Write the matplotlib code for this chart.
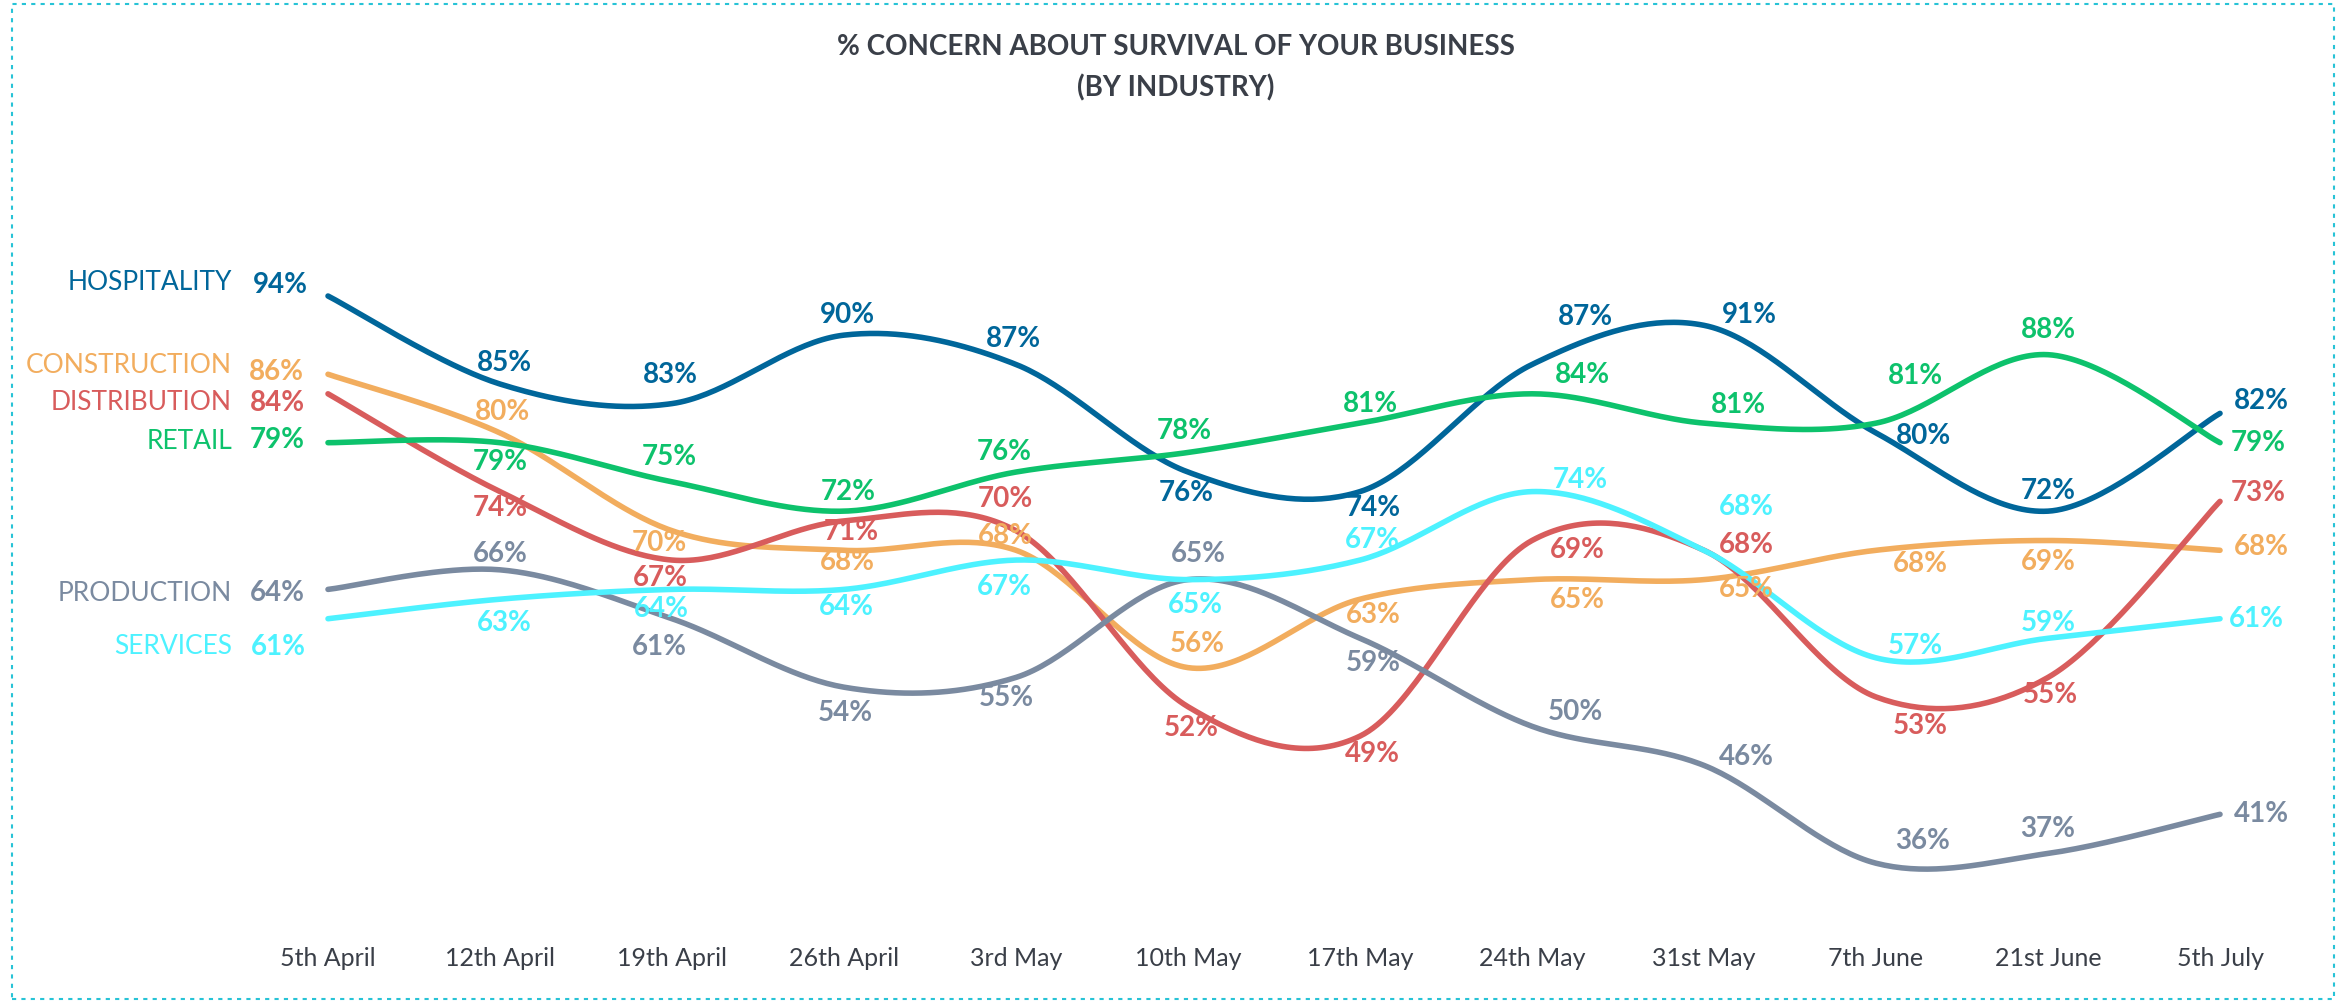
import numpy as np
import matplotlib
matplotlib.use("Agg")
import matplotlib.pyplot as plt
from matplotlib.patches import Rectangle

# ---- data -------------------------------------------------------------
dates = ["5th April", "12th April", "19th April", "26th April", "3rd May",
         "10th May", "17th May", "24th May", "31st May", "7th June",
         "21st June", "5th July"]

hospitality = [94, 85, 83, 90, 87, 76, 74, 87, 91, 80, 72, 82]
construction = [86, 80, 70, 68, 68, 56, 63, 65, 65, 68, 69, 68]
distribution = [84, 74, 67, 71, 70, 52, 49, 69, 68, 53, 55, 73]
retail = [79, 79, 75, 72, 76, 78, 81, 84, 81, 81, 88, 79]
production = [64, 66, 61, 54, 55, 65, 59, 50, 46, 36, 37, 41]
services = [61, 63, 64, 64, 67, 65, 67, 74, 68, 57, 59, 61]

industries = ["HOSPITALITY", "CONSTRUCTION", "DISTRIBUTION", "RETAIL",
              "PRODUCTION", "SERVICES"]
series = [hospitality, construction, distribution, retail, production, services]

# ---- styling ------------------------------------------------------------
colors = ["#00669A", "#F2AD5E", "#D85C5C", "#0DC26C", "#7A8AA0", "#4DF2FF"]

# label offsets in pixels (dx right, dy down) for each point
label_offsets = [
    [(-48, -11), (4, -21), (-2, -29), (3, -20), (-3, -25), (-2, 21),
     (13, 16), (53, -47), (45, -10), (47, 3), (0, -20), (41, -12)],
    [(-52, -2), (2, -21), (-13, 12), (3, 12), (-11, -14), (9, -24),
     (13, 16), (45, 20), (42, 9), (44, 14), (0, 22), (41, -3)],
    [(-51, 9), (0, 16), (-12, 18), (7, 11), (-11, -32), (3, 21),
     (12, 18), (45, 10), (42, -5), (44, 29), (2, 18), (38, -8)],
    [(-51, -3), (0, 19), (-3, -25), (4, -19), (-12, -20), (-4, -21),
     (10, -19), (50, -19), (34, -18), (39, -47), (0, -25), (38, 0)],
    [(-51, 4), (0, -16), (-13, 28), (1, 26), (-10, 21), (10, -26),
     (13, 25), (43, -14), (42, -8), (47, -22), (0, -24), (41, 0)],
    [(-50, 28), (4, 24), (-11, 20), (2, 18), (-12, 27), (7, 25),
     (12, -20), (48, -12), (42, -43), (39, -12), (0, -15), (36, 0)],
]
# vertical offset (pixels, down) of each series name from its first point
name_offsets = [-14, -9, 9, -1, 4, 28]

FONT = ["Lato", "DejaVu Sans"]
plt.rcParams["font.family"] = FONT

W, H = 2351, 1001
fig = plt.figure(figsize=(W / 100, H / 100), dpi=100)
fig.patch.set_facecolor("white")

# axes placed in pixel terms
left_px, right_px, top_px, bottom_px = 250, 2300, 150, 935
ax = fig.add_axes([left_px / W, 1 - bottom_px / H,
                   (right_px - left_px) / W, (bottom_px - top_px) / H])
ax.set_xlim(-0.4535, 11.465)
ax.set_ylim(28.66, 108.93)
for s in ax.spines.values():
    s.set_visible(False)
ax.set_yticks([])
ax.set_xticks(range(len(dates)))
ax.set_xticklabels(dates, fontsize=18, color="#3A3F48")
ax.tick_params(axis="x", length=0, pad=9)


def smooth(xs, ys, n=40):
    """Cubic Bezier smoothing through every point (Catmull-Rom style)."""
    pts = np.column_stack([xs, ys]).astype(float)
    ext = np.vstack([pts[0], pts, pts[-1]])
    out = []
    for i in range(len(pts) - 1):
        p0, p1, p2, p3 = ext[i], ext[i + 1], ext[i + 2], ext[i + 3]
        c1 = p1 + (p2 - p0) / 6.0
        c2 = p2 - (p3 - p1) / 6.0
        t = np.linspace(0, 1, n, endpoint=(i == len(pts) - 2))[:, None]
        seg = ((1 - t) ** 3) * p1 + 3 * ((1 - t) ** 2) * t * c1 \
            + 3 * (1 - t) * t ** 2 * c2 + t ** 3 * p2
        out.append(seg)
    out = np.vstack(out)
    return out[:, 0], out[:, 1]


x = np.arange(len(dates))
for name, vals, col, offs, noff in zip(industries, series, colors,
                                       label_offsets, name_offsets):
    sx, sy = smooth(x, vals)
    ax.plot(sx, sy, color=col, lw=4.0, solid_capstyle="round", zorder=2)
    for i, v in enumerate(vals):
        dx, dy = offs[i]
        ax.annotate(f"{v}%", (x[i], v), xytext=(dx, -dy),
                    textcoords="offset pixels", ha="center", va="center",
                    fontsize=20, fontweight="bold", color=col, zorder=3,
                    annotation_clip=False)
    # series name to the left of the first value
    ax.annotate(name, (x[0], vals[0]), xytext=(-96, -noff),
                textcoords="offset pixels", ha="right", va="center",
                fontsize=19, color=col, annotation_clip=False)

# title
fig.text(1176 / W, 1 - 47 / H, "% CONCERN ABOUT SURVIVAL OF YOUR BUSINESS",
         ha="center", va="center", fontsize=20, fontweight="bold",
         color="#3A3F48")
fig.text(1176 / W, 1 - 88 / H, "(BY INDUSTRY)",
         ha="center", va="center", fontsize=20, fontweight="bold",
         color="#3A3F48")

# dotted frame around the chart
fig.patches.append(Rectangle((12 / W, 2 / H), (2334 - 12) / W, (997 - 2) / H,
                             transform=fig.transFigure, fill=False,
                             edgecolor="#27C3D6", lw=1.5,
                             linestyle=(0, (2, 2.5))))

fig.savefig("out.png", dpi=100, facecolor="white")
